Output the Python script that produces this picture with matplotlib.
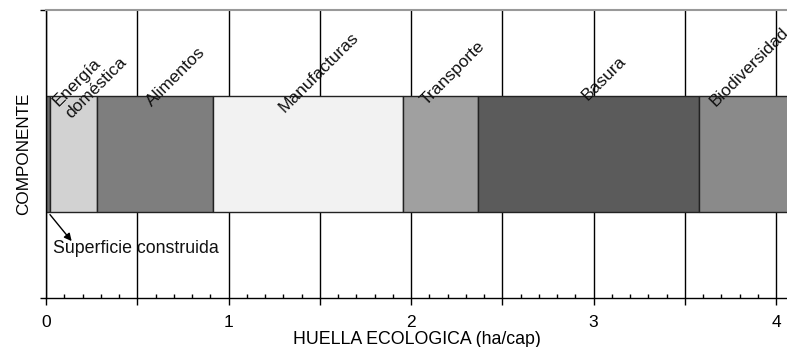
import matplotlib
matplotlib.use("Agg")
import matplotlib.pyplot as plt
from matplotlib.ticker import MultipleLocator

# footprint components (ha/cap), stacked left to right
componentes = ["Superficie construida", "Energía\ndoméstica", "Alimentos",
               "Manufacturas", "Transporte", "Basura", "Biodiversidad"]
valores = [0.02, 0.26, 0.637, 1.039, 0.413, 1.211, 0.60]
colores = ["#6e6e6e", "#d2d2d2", "#7e7e7e", "#f2f2f2", "#a0a0a0", "#5b5b5b", "#8a8a8a"]
# label offset from segment start (x) and label y (axes fraction)
label_dx = [None, 0.13, 0.31, 0.40, 0.14, 0.61, 0.10]
label_y = [None, 0.615, 0.655, 0.635, 0.66, 0.675, 0.655]

plt.rcParams["font.family"] = ["Liberation Sans", "DejaVu Sans"]

fig = plt.figure(figsize=(7.87, 3.47), dpi=100)
ax = fig.add_axes([0.0585, 0.1412, 0.9415, 0.830])

# grid behind the bar
ax.set_axisbelow(True)
ax.grid(axis="x", which="major", color="black", lw=1.0)
ax.grid(axis="y", visible=False)

left = 0.0
starts = []
for v, c in zip(valores, colores):
    ax.barh(0.5, v, left=left, height=0.406, color=c, edgecolor="#222222",
            lw=1.0, zorder=2)
    starts.append(left)
    left += v

for i, name in enumerate(componentes):
    if label_dx[i] is None:
        continue
    ax.text(starts[i] + label_dx[i], label_y[i], name, rotation=45,
            rotation_mode="anchor", ha="left", va="bottom", fontsize=12.5,
            color="#111111", zorder=5, clip_on=False, linespacing=1.2)

# arrow to the thin first segment
ax.annotate("", xy=(0.15, 0.19), xytext=(0.012, 0.297),
            arrowprops=dict(arrowstyle="-|>", color="black", lw=1.0,
                            mutation_scale=11), zorder=6)
ax.text(0.04, 0.172, componentes[0], fontsize=12.8, ha="left", va="center",
        color="#111111", zorder=6)

ax.set_xlim(0, 4.06)
ax.set_ylim(0, 1)
ax.xaxis.set_major_locator(MultipleLocator(0.5))
ax.xaxis.set_minor_locator(MultipleLocator(0.1))
ax.set_xticklabels([("%g" % t if abs(t - round(t)) < 1e-6 else "")
                    for t in ax.get_xticks()])
ax.tick_params(axis="x", which="major", direction="out", length=5, width=1,
               labelsize=12.5, pad=7)
ax.tick_params(axis="x", which="minor", direction="in", length=3, width=1)
ax.set_yticks([0, 1])
ax.set_yticklabels([])
ax.tick_params(axis="y", direction="out", length=4, width=1)

ax.spines["right"].set_visible(False)
ax.spines["top"].set_color("#999999")
ax.spines["top"].set_linewidth(1.5)
ax.spines["left"].set_linewidth(1.0)
ax.spines["bottom"].set_linewidth(1.0)

ax.set_xlabel("HUELLA ECOLOGICA (ha/cap)", fontsize=12.8, labelpad=1)
ax.set_ylabel("COMPONENTE", fontsize=12.3, labelpad=3)

fig.savefig("out.png", dpi=100)
